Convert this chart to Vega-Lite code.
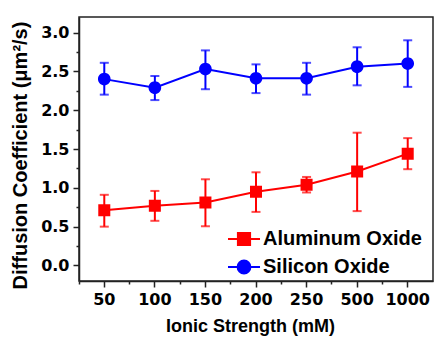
{
  "$schema": "https://vega.github.io/schema/vega-lite/v6.json",
  "width": 354,
  "height": 264,
  "autosize": {"type": "none"},
  "padding": {"left": 79, "top": 17, "right": 1, "bottom": 57},
  "background": "white",
  "config": {
    "font": "Liberation Sans",
    "view": {"stroke": "#222222", "strokeWidth": 1.5},
    "axis": {
      "labelFont": "DejaVu Sans",
      "labelFontWeight": "bold",
      "labelFontSize": 16,
      "labelColor": "#000000",
      "titleFont": "Liberation Sans",
      "titleFontWeight": "bold",
      "titleFontSize": 19,
      "titleColor": "#000000",
      "domainColor": "#222222",
      "domainWidth": 1.5,
      "tickColor": "#222222",
      "tickWidth": 1.5,
      "grid": false
    }
  },
  "data": {
    "values": [
      {"ionic": "50", "series": "Aluminum Oxide", "d": 0.71, "lo": 0.50, "hi": 0.91},
      {"ionic": "100", "series": "Aluminum Oxide", "d": 0.77, "lo": 0.575, "hi": 0.96},
      {"ionic": "150", "series": "Aluminum Oxide", "d": 0.81, "lo": 0.505, "hi": 1.11},
      {"ionic": "200", "series": "Aluminum Oxide", "d": 0.95, "lo": 0.69, "hi": 1.20},
      {"ionic": "250", "series": "Aluminum Oxide", "d": 1.04, "lo": 0.94, "hi": 1.14},
      {"ionic": "500", "series": "Aluminum Oxide", "d": 1.21, "lo": 0.70, "hi": 1.71},
      {"ionic": "1000", "series": "Aluminum Oxide", "d": 1.44, "lo": 1.24, "hi": 1.64},
      {"ionic": "50", "series": "Silicon Oxide", "d": 2.40, "lo": 2.20, "hi": 2.61},
      {"ionic": "100", "series": "Silicon Oxide", "d": 2.29, "lo": 2.13, "hi": 2.44},
      {"ionic": "150", "series": "Silicon Oxide", "d": 2.53, "lo": 2.27, "hi": 2.77},
      {"ionic": "200", "series": "Silicon Oxide", "d": 2.41, "lo": 2.22, "hi": 2.59},
      {"ionic": "250", "series": "Silicon Oxide", "d": 2.41, "lo": 2.20, "hi": 2.61},
      {"ionic": "500", "series": "Silicon Oxide", "d": 2.56, "lo": 2.32, "hi": 2.81},
      {"ionic": "1000", "series": "Silicon Oxide", "d": 2.60, "lo": 2.30, "hi": 2.90}
    ]
  },
  "resolve": {"axis": {"x": "independent", "y": "independent"}},
  "layer": [
    {
      "encoding": {
        "x": {
          "field": "ionic", "type": "ordinal", "sort": null,
          "scale": {"type": "band", "paddingInner": 0, "paddingOuter": 0},
          "axis": {"title": "Ionic Strength (mM)", "orient": "bottom", "labelAngle": 0, "tickSize": 6, "labelPadding": 4, "titlePadding": 10, "bandPosition": 0.5, "titleX": 171, "titleFontSize": 18}
        },
        "color": {
          "field": "series", "type": "nominal",
          "scale": {"domain": ["Aluminum Oxide", "Silicon Oxide"], "range": ["#ff0000", "#0000ff"]},
          "legend": {
            "title": null,
            "orient": "none",
            "legendX": 148,
            "legendY": 205,
            "labelFont": "Liberation Sans",
            "labelFontWeight": "bold",
            "labelFontSize": 20,
            "labelColor": "#000000",
            "labelOffset": 2,
            "symbolSize": 1024,
            "symbolStrokeWidth": 2,
            "rowPadding": -6,
            "padding": 0,
            "encode": {
              "symbols": {
                "update": {
                  "stroke": {"signal": "datum.value == 'Aluminum Oxide' ? '#ff0000' : '#0000ff'"},
                  "strokeWidth": {"value": 2},
                  "opacity": {"value": 1},
                  "fillOpacity": {"value": 1},
                  "strokeOpacity": {"value": 1}
                }
              }
            }
          }
        }
      },
      "layer": [
        {
          "mark": {"type": "rule", "strokeWidth": 2},
          "encoding": {
            "y": {"field": "lo", "type": "quantitative", "scale": {"domain": [-0.2, 3.2], "nice": false, "zero": false},
              "axis": {"title": "Diffusion Coefficient (μm²/s)", "orient": "left", "values": [0, 0.5, 1, 1.5, 2, 2.5, 3], "format": ".1f", "tickSize": 6, "labelPadding": 4, "titlePadding": 10, "titleFontSize": 20, "titleY": 138}},
            "y2": {"field": "hi"}
          }
        },
        {
          "mark": {"type": "tick", "size": 9, "thickness": 2, "orient": "horizontal"},
          "encoding": {"y": {"field": "lo", "type": "quantitative"}}
        },
        {
          "mark": {"type": "tick", "size": 9, "thickness": 2, "orient": "horizontal"},
          "encoding": {"y": {"field": "hi", "type": "quantitative"}}
        },
        {
          "mark": {"type": "line", "strokeWidth": 2},
          "encoding": {"y": {"field": "d", "type": "quantitative"}, "detail": {"field": "series"}}
        },
        {
          "mark": {"type": "point", "filled": true, "opacity": 1, "strokeWidth": 0},
          "encoding": {
            "y": {"field": "d", "type": "quantitative"},
            "shape": {"field": "series", "type": "nominal", "scale": {"domain": ["Aluminum Oxide", "Silicon Oxide"], "range": ["M-1,0H1M-0.38,-0.38H0.38V0.38H-0.38Z", "M-1,0H1M0.4,0A0.4,0.4,0,1,1,-0.4,0A0.4,0.4,0,1,1,0.4,0Z"]}, "legend": null},
            "size": {"value": 1000}
          }
        }
      ]
    },
    {
      "mark": {"type": "point", "opacity": 0},
      "encoding": {
        "x": {
          "field": "ionic", "type": "ordinal", "sort": null,
          "axis": {"title": null, "orient": "bottom", "labels": false, "domain": false, "tickSize": 3, "bandPosition": 0}
        },
        "y": {
          "field": "d", "type": "quantitative",
          "axis": {"title": null, "orient": "left", "labels": false, "domain": false, "tickSize": 3, "values": [0.25, 0.75, 1.25, 1.75, 2.25, 2.75]}
        }
      }
    }
  ]
}
